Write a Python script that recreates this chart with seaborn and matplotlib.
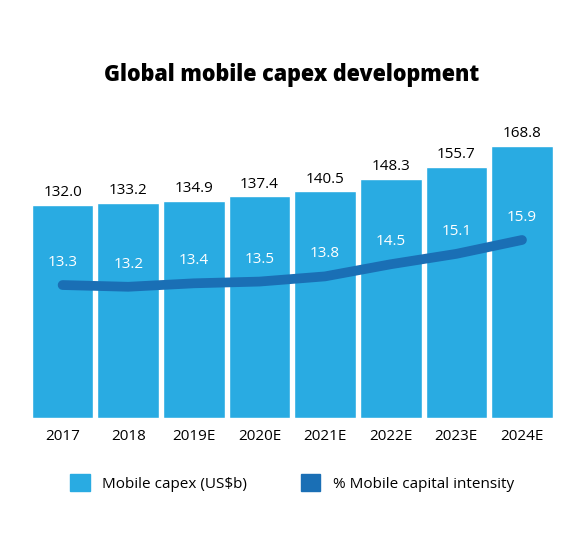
import numpy as np
import pandas as pd
import matplotlib
matplotlib.use('Agg')
import matplotlib.pyplot as plt
import seaborn as sns
from matplotlib.patches import Patch

years = ['2017', '2018', '2019E', '2020E', '2021E', '2022E', '2023E', '2024E']
capex = [132.0, 133.2, 134.9, 137.4, 140.5, 148.3, 155.7, 168.8]
intensity = [13.3, 13.2, 13.4, 13.5, 13.8, 14.5, 15.1, 15.9]

bar_col = '#29abe2'
line_col = '#1a6fb5'

sns.set_style('white')
plt.rcParams['font.family'] = ['Open Sans', 'DejaVu Sans']

df = pd.DataFrame({'year': years, 'capex': capex, 'intensity': intensity})

fig = plt.figure(figsize=(5.84, 5.59), dpi=100)
ax = fig.add_axes([0.051, 0.252, 0.899, 0.505])
sns.barplot(data=df, x='year', y='capex', color=bar_col, width=0.94,
            saturation=1, ax=ax)
ax.set_ylim(0, 175)
ax.set_xlim(-0.5, 7.5)
for i, v in enumerate(capex):
    ax.text(i, v + 3, f'{v:.1f}', ha='center', va='bottom', fontsize=11, color='black')

ax2 = ax.twinx()
ax2.plot(np.arange(len(years)), intensity, color=line_col, lw=7,
         solid_capstyle='round', solid_joinstyle='round')
ax2.set_ylim(5.62, 21.91)
for i, v in enumerate(intensity):
    ax2.text(i, v + 1.3, f'{v:.1f}', ha='center', va='center', fontsize=11, color='white')

for a in (ax, ax2):
    a.set_yticks([])
    a.set_ylabel('')
    for s in a.spines.values():
        s.set_visible(False)
ax.set_xlabel('')
ax.tick_params(axis='x', length=0, labelsize=11, pad=8, labelcolor='black')

fig.text(0.5, 1 - 75 / 559, 'Global mobile capex development', ha='center', va='center',
         fontsize=15.5, fontweight='heavy', color='black')

handles = [Patch(color=bar_col, label='Mobile capex (US$b)'),
           Patch(color=line_col, label='% Mobile capital intensity')]
leg = fig.legend(handles=handles, loc='center', bbox_to_anchor=(0.5, 1 - 483 / 559), ncol=2,
                 frameon=False, fontsize=11, handlelength=1.3, handleheight=1.3,
                 columnspacing=3.5)
for t in leg.get_texts():
    t.set_color('black')

fig.savefig('out.png', dpi=100)
